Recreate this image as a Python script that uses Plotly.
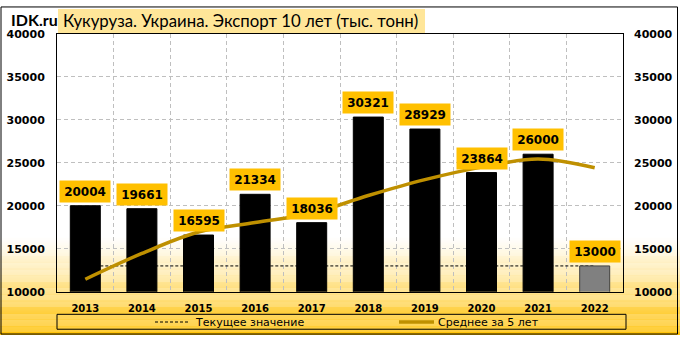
import plotly.graph_objects as go

years = ["2013", "2014", "2015", "2016", "2017", "2018", "2019", "2020", "2021", "2022"]
exports = [20004, 19661, 16595, 21334, 18036, 30321, 28929, 23864, 26000, 13000]
avg5 = [11450, 14450, 16950, 18050, 19130, 21190, 23040, 24500, 25430, 24420]
current = [13000] * 10
bar_colors = ["#000000"] * 9 + ["#808080"]
bar_lines = ["#000000"] * 9 + ["#404040"]
y_ticks = [10000, 15000, 20000, 25000, 30000, 35000, 40000]

W, H = 680, 342
PL, PR, PT, PB = 57, 623, 29, 297


def px(x):
    return x / W


def py(y):
    return 1 - y / H


fig = go.Figure()

# dashed "current value" line: bottom subplot (x, y)
fig.add_trace(go.Scatter(
    x=years, y=current, mode="lines", name="Текущее значение",
    line=dict(color="black", width=1, dash="3px,2px"),
    showlegend=False, xaxis="x", yaxis="y"))

# bars: overlay (x, y2)
fig.add_trace(go.Bar(
    x=years, y=exports, width=0.53, name="Экспорт",
    marker=dict(color=bar_colors, line=dict(color=bar_lines, width=1)),
    showlegend=False, xaxis="x", yaxis="y2"))

# 5-year average: top overlay (x, y3)
fig.add_trace(go.Scatter(
    x=years, y=avg5, mode="lines", name="Среднее за 5 лет",
    line=dict(color="#BF9000", width=3.5, shape="spline", smoothing=1.0),
    showlegend=False, xaxis="x", yaxis="y3"))

shapes = []
# gradient background (white -> gold) as thin stripes
g0, g1 = 240, 342
top_c = (255, 255, 255)
bot_c = (255, 192, 0)
n = g1 - g0
for i in range(n):
    t = (i + 0.5) / n
    t2 = t ** 1.1
    c = tuple(int(round(top_c[k] + (bot_c[k] - top_c[k]) * t2)) for k in range(3))
    shapes.append(dict(type="rect", xref="paper", yref="paper", layer="below",
                       x0=0, x1=1, y0=py(g0 + i + 1.05), y1=py(g0 + i),
                       line=dict(width=0), fillcolor="rgb(%d,%d,%d)" % c))
# title box
shapes.append(dict(type="rect", xref="paper", yref="paper", layer="below",
                   x0=px(58), x1=px(425), y0=py(28), y1=py(3),
                   line=dict(width=0), fillcolor="#FFE699"))
# outer border
shapes.append(dict(type="rect", xref="paper", yref="paper",
                   x0=px(1), x1=px(677.5), y0=py(341), y1=py(1),
                   line=dict(color="black", width=1)))
# legend box
shapes.append(dict(type="rect", xref="paper", yref="paper",
                   x0=px(57), x1=px(626), y0=py(336), y1=py(320.5),
                   line=dict(color="black", width=1)))
shapes.append(dict(type="line", xref="paper", yref="paper",
                   x0=px(155), x1=px(188), y0=py(328.5), y1=py(328.5),
                   line=dict(color="black", width=1, dash="3px,2px")))
shapes.append(dict(type="line", xref="paper", yref="paper",
                   x0=px(399), x1=px(434), y0=py(328.5), y1=py(328.5),
                   line=dict(color="#BF9000", width=3.5)))

annotations = []
for i, v in enumerate(exports):
    annotations.append(dict(
        x=i, y=v, xref="x", yref="y2", text=str(v), showarrow=False,
        yanchor="bottom", yshift=3, bgcolor="#FFC000", width=48, height=19,
        borderpad=1,
        font=dict(family="DejaVu Sans", size=12, color="black", weight="bold")))

annotations.append(dict(
    x=px(9), y=py(14), xref="paper", yref="paper", text="IDK.ru",
    showarrow=False, xanchor="left", yanchor="middle",
    font=dict(family="Lato", size=16, color="black", weight="bold")))
annotations.append(dict(
    x=px(61), y=py(15.5), xref="paper", yref="paper",
    text="Кукуруза. Украина. Экспорт 10 лет (тыс. тонн)",
    showarrow=False, xanchor="left", yanchor="middle",
    font=dict(family="Lato", size=16.8, color="black")))
annotations.append(dict(
    x=px(193), y=py(328.5), xref="paper", yref="paper", text="Текущее значение",
    showarrow=False, xanchor="left", yanchor="middle",
    font=dict(family="DejaVu Sans", size=11, color="black")))
annotations.append(dict(
    x=px(436), y=py(328.5), xref="paper", yref="paper", text="Среднее за 5 лет",
    showarrow=False, xanchor="left", yanchor="middle",
    font=dict(family="DejaVu Sans", size=11, color="black")))

tickfont_y = dict(family="DejaVu Sans", size=11, color="black", weight="bold")
tickfont_x = dict(family="DejaVu Sans", size=10, color="black", weight="bold")
grid_col = "#BFBFBF"

fig.update_layout(
    width=W, height=H,
    margin=dict(l=0, r=0, t=0, b=0),
    paper_bgcolor="white",
    plot_bgcolor="rgba(0,0,0,0)",
    showlegend=False,
    shapes=shapes,
    annotations=annotations,
    xaxis=dict(
        domain=[px(PL), px(PR)], type="category", categoryorder="array",
        categoryarray=years, range=[-0.5, 9.5], tickson="boundaries", ticks="",
        showgrid=True, gridcolor=grid_col, griddash="4px,3px", gridwidth=1,
        showline=True, linecolor="black", linewidth=1, mirror=True,
        tickfont=tickfont_x, ticklabelstandoff=7, fixedrange=True),
    yaxis=dict(
        domain=[py(PB), py(PT)], range=[10000, 40000], tickvals=y_ticks,
        tickformat="d",
        ticks="", showgrid=True, gridcolor=grid_col, griddash="4px,3px",
        gridwidth=1, zeroline=False,
        showline=True, linecolor="black", linewidth=1, mirror=True,
        tickfont=tickfont_y, ticklabelstandoff=9),
    yaxis2=dict(
        overlaying="y", side="right", range=[10000, 40000], tickvals=y_ticks,
        showticklabels=False, ticks="", showgrid=False, zeroline=False,
        showline=False),
    yaxis3=dict(
        overlaying="y", side="right", range=[10000, 40000], tickvals=y_ticks,
        tickformat="d",
        ticks="", showgrid=False, zeroline=False, showline=False,
        tickfont=tickfont_y, ticklabelstandoff=10),
)

fig.write_html("out.html")
